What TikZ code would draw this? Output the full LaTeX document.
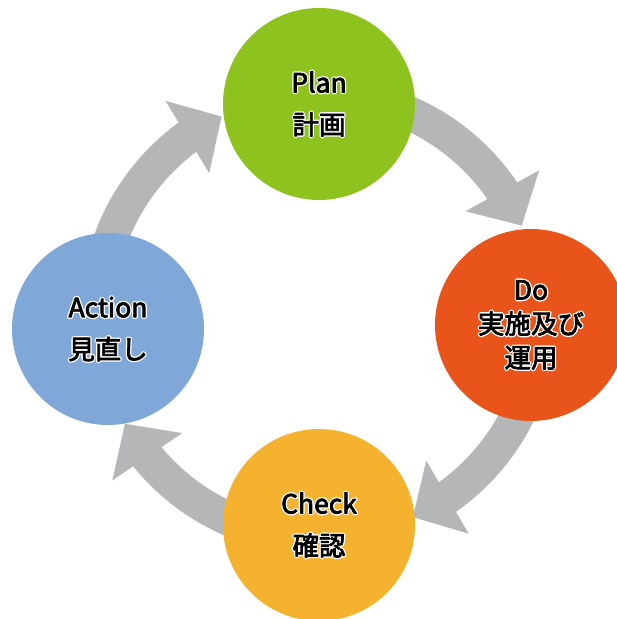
\documentclass[tikz,border=0pt]{standalone}
\usepackage{fontspec}
\setmainfont{Noto Sans CJK JP}
\usetikzlibrary{calc,arrows.meta,bending}
\definecolor{plangreen}{HTML}{8DC21F}
\definecolor{doorange}{HTML}{E85419}
\definecolor{checkyellow}{HTML}{F5B22E}
\definecolor{actionblue}{HTML}{7FA7D8}
\definecolor{arrowgray}{HTML}{B4B6B8}
% white outline behind slightly emboldened black text
\newcommand{\halo}[1]{\rlap{\special{pdf:literal direct q 1 1 1 RG 3.4 w 1 j 2 Tr}#1\special{pdf:literal direct 0 Tr Q}}%
  \special{pdf:literal direct q 0 0 0 RG 0.8 w 1 j 2 Tr}#1\special{pdf:literal direct 0 Tr Q}}
\tikzset{
  phase/.style={circle, draw=none, minimum size=192pt, inner sep=0pt, align=center,
    text=black, font=\fontsize{26.5}{42}\selectfont},
  cyclearrow/.style={draw=arrowgray, line width=34pt, line cap=butt,
    -{Triangle[length=40pt, width=82pt, flex]}}
}
\begin{document}
\begin{tikzpicture}[x=1pt,y=1pt]
\useasboundingbox (0,0) rectangle (617,619);
\clip (0,0) rectangle (617,619);
\coordinate (C) at (319,303);
% arrow start points (hidden beneath the circles)
\coordinate (pd) at ($(C)+(80:222)$);
\coordinate (dc) at ($(C)+(-10:222)$);
\coordinate (ca) at ($(C)+(-100:222)$);
\coordinate (ap) at ($(C)+(185:222)$);
\draw[cyclearrow] (pd) arc[start angle=80, end angle=24, radius=222];
\draw[cyclearrow] (dc) arc[start angle=-10, end angle=-65, radius=222];
\draw[cyclearrow] (ca) arc[start angle=-100, end angle=-151, radius=222];
\draw[cyclearrow] (ap) arc[start angle=185, end angle=116, radius=222];
% phases
\node[phase, fill=plangreen] (plan) at (319,515) {\halo{Plan}\\\halo{計画}};
\node[phase, fill=doorange, font=\fontsize{26.5}{34}\selectfont] (do) at (531,294) {\halo{Do}\\\halo{実施及び}\\\halo{運用}};
\node[phase, fill=checkyellow] (check) at (319,94) {\halo{Check}\\\halo{確認}};
\node[phase, fill=actionblue] (action) at (108,290) {\halo{Action}\\\halo{見直し}};
\end{tikzpicture}
\end{document}
